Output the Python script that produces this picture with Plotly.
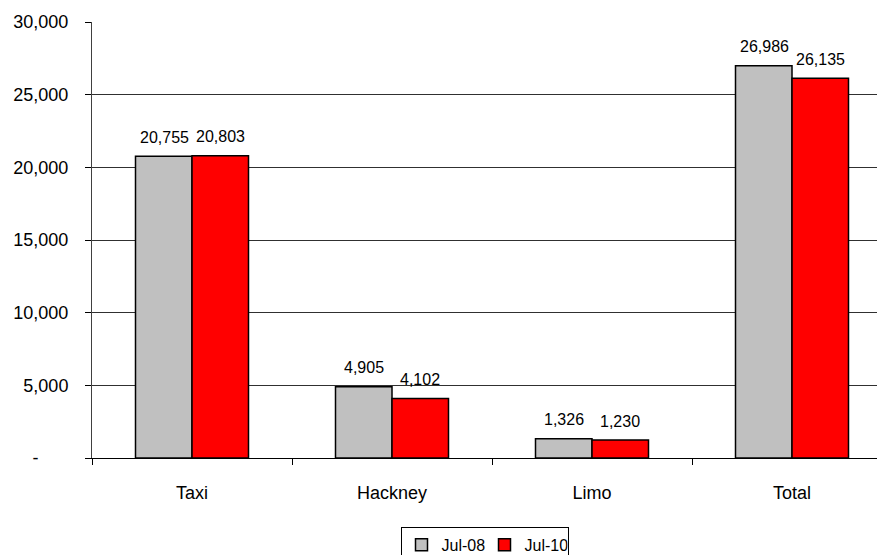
import plotly.graph_objects as go

categories = ["Taxi", "Hackney", "Limo", "Total"]
jul08 = [20755, 4905, 1326, 26986]
jul10 = [20803, 4102, 1230, 26135]
series_names = ["Jul-08", "Jul-10"]
ytick_vals = [0, 5000, 10000, 15000, 20000, 25000, 30000]
ytick_text = ["-" + "\u00a0" * 6, "5,000", "10,000", "15,000", "20,000", "25,000", "30,000"]

colors = ["#C0C0C0", "#FF0000"]
FONT = "Liberation Sans, Arial"

fig = go.Figure()
for name, vals, col in zip(series_names, [jul08, jul10], colors):
    fig.add_trace(go.Bar(
        x=categories, y=vals, name=name,
        marker=dict(color=col, line=dict(color="#000000", width=1.5)),
    ))

annotations = []
for vals, shift in [(jul08, -28), (jul10, 28)]:
    for c, v in zip(categories, vals):
        annotations.append(dict(
            x=c, y=v, xref="x", yref="y", text=f"{v:,}", showarrow=False,
            xshift=shift, yshift=19, yanchor="middle",
            font=dict(family=FONT, size=16, color="#000000"),
        ))

fig.update_layout(
    width=877, height=555,
    margin=dict(l=92, r=0, t=22, b=97, autoexpand=False),
    plot_bgcolor="#FFFFFF", paper_bgcolor="#FFFFFF",
    barmode="group", bargap=0.435, bargroupgap=0,
    font=dict(family=FONT, size=18, color="#000000"),
    annotations=annotations,
    showlegend=True,
    legend=dict(
        orientation="h", x=0.5, xanchor="center", y=-0.158, yanchor="top",
        bordercolor="#000000", borderwidth=1, bgcolor="#FFFFFF",
        font=dict(size=16), itemwidth=30, tracegroupgap=0,
        entrywidth=38, entrywidthmode="pixels",
    ),
    xaxis=dict(
        range=[-0.5, 3.425], tickson="boundaries", ticks="outside", ticklen=6,
        tickcolor="#000000", showline=True, linecolor="#000000", linewidth=1,
        showgrid=False, ticklabelstandoff=18,
    ),
    yaxis=dict(
        range=[0, 30000], tickvals=ytick_vals, ticktext=ytick_text,
        ticks="outside", ticklen=6, tickcolor="#000000",
        showline=True, linecolor="#404040", linewidth=1,
        showgrid=True, gridcolor="#303030", gridwidth=1,
        ticklabelstandoff=13, zeroline=False,
    ),
)

fig.write_html("out.html")
